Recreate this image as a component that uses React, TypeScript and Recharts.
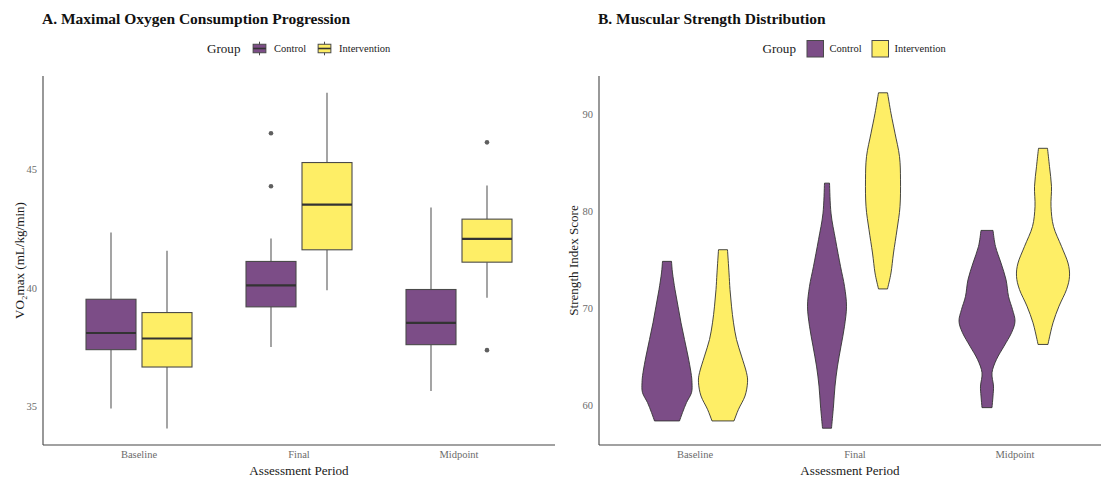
import React from 'react';
import { ComposedChart, Bar, XAxis, YAxis, Label } from 'recharts';

const periods = ['Baseline', 'Final', 'Midpoint'];
const groups = ['Control', 'Intervention'];

// Panel A: VO2max box-plot statistics per period
const vo2ControlLow = [34.92, 37.51, 35.66];
const vo2ControlQ1 = [37.4, 39.2, 37.61];
const vo2ControlMedian = [38.1, 40.1, 38.53];
const vo2ControlQ3 = [39.52, 41.11, 39.93];
const vo2ControlHigh = [42.33, 42.08, 43.38];
const vo2ControlOutliers = [[], [44.27, 46.5], []];

const vo2InterventionLow = [34.08, 39.9, 39.58];
const vo2InterventionQ1 = [36.67, 41.6, 41.08];
const vo2InterventionMedian = [37.87, 43.5, 42.06];
const vo2InterventionQ3 = [38.96, 45.27, 42.89];
const vo2InterventionHigh = [41.56, 48.21, 44.3];
const vo2InterventionOutliers = [[], [], [37.38, 46.12]];

const vo2Ticks = [35, 40, 45];
const vo2Domain = [33.39, 48.91];

// Panel B: violin outlines (score levels, top to bottom, and relative density width)
const strengthControlLevels = [
  [74.83, 73.64, 71.92, 70.21, 68.5, 66.78, 65.07, 63.36, 62.33, 61.3, 60.28, 59.25, 58.39],
  [82.89, 79.8, 77.06, 74.32, 72.26, 70.21, 68.15, 66.09, 64.04, 61.98, 59.93, 57.64],
  [78.02, 76.37, 74.66, 72.95, 71.23, 69.87, 68.66, 67.47, 66.09, 64.73, 63.36, 61.98, 60.96, 59.76],
];
const strengthControlDensity = [
  [0.09, 0.11, 0.16, 0.22, 0.28, 0.35, 0.42, 0.48, 0.5, 0.49, 0.39, 0.31, 0.25],
  [0.05, 0.08, 0.17, 0.27, 0.35, 0.39, 0.35, 0.28, 0.21, 0.16, 0.13, 0.09],
  [0.12, 0.17, 0.28, 0.38, 0.43, 0.51, 0.56, 0.49, 0.34, 0.19, 0.1, 0.13, 0.12, 0.1],
];
const strengthInterventionLevels = [
  [76.03, 73.64, 71.92, 70.21, 68.5, 66.78, 65.07, 63.36, 62.33, 60.96, 59.59, 58.39],
  [92.2, 90.08, 88.03, 85.63, 83.23, 80.48, 78.09, 75.69, 73.64, 71.99],
  [86.48, 84.59, 82.54, 80.48, 78.43, 76.37, 74.66, 73.29, 71.92, 70.21, 68.5, 66.78, 66.27],
];
const strengthInterventionDensity = [
  [0.09, 0.12, 0.14, 0.17, 0.21, 0.27, 0.37, 0.47, 0.49, 0.44, 0.31, 0.22],
  [0.09, 0.16, 0.24, 0.33, 0.35, 0.34, 0.28, 0.21, 0.16, 0.09],
  [0.09, 0.13, 0.17, 0.16, 0.21, 0.37, 0.5, 0.53, 0.47, 0.32, 0.2, 0.12, 0.1],
];

const strengthTicks = [60, 70, 80, 90];
const strengthDomain = [55.91, 93.93];

const COLORS: Record<string, string> = { Control: '#7C4D87', Intervention: '#FEEE66' };
const FONT = "'Liberation Serif', 'Times New Roman', serif";
const TICK_COLOR = '#6b6b6b';
const AXIS_COLOR = '#444444';

const boxRows = periods.map((period, i) => ({
  period,
  Control: [vo2ControlLow[i], vo2ControlHigh[i]],
  Intervention: [vo2InterventionLow[i], vo2InterventionHigh[i]],
  ControlStats: {
    low: vo2ControlLow[i], q1: vo2ControlQ1[i], median: vo2ControlMedian[i],
    q3: vo2ControlQ3[i], high: vo2ControlHigh[i], outliers: vo2ControlOutliers[i],
  },
  InterventionStats: {
    low: vo2InterventionLow[i], q1: vo2InterventionQ1[i], median: vo2InterventionMedian[i],
    q3: vo2InterventionQ3[i], high: vo2InterventionHigh[i], outliers: vo2InterventionOutliers[i],
  },
}));

const violinRows = periods.map((period, i) => ({
  period,
  Control: [Math.min(...strengthControlLevels[i]), Math.max(...strengthControlLevels[i])],
  Intervention: [Math.min(...strengthInterventionLevels[i]), Math.max(...strengthInterventionLevels[i])],
  ControlProfile: strengthControlLevels[i].map((v, j) => [v, strengthControlDensity[i][j]]),
  InterventionProfile: strengthInterventionLevels[i].map((v, j) => [v, strengthInterventionDensity[i][j]]),
}));

const makeBoxShape = (group: string) => (props: any) => {
  const { x, y, width, height, payload } = props;
  const s = payload[`${group}Stats`];
  const lo = s.low;
  const hi = s.high;
  const top = Math.min(y, y + height);
  const h = Math.abs(height);
  const py = (v: number) => top + (h * (hi - v)) / (hi - lo);
  const cx = x + width / 2;
  return (
    <g>
      <line x1={cx} x2={cx} y1={py(s.high)} y2={py(s.q3)} stroke="#5a5a5a" strokeWidth={1.1} />
      <line x1={cx} x2={cx} y1={py(s.q1)} y2={py(s.low)} stroke="#5a5a5a" strokeWidth={1.1} />
      <rect x={x} y={py(s.q3)} width={width} height={py(s.q1) - py(s.q3)} fill={COLORS[group]} stroke="#4a4a4a" strokeWidth={1.1} />
      <line x1={x} x2={x + width} y1={py(s.median)} y2={py(s.median)} stroke="#333333" strokeWidth={2.2} />
      {s.outliers.map((o: number, k: number) => (
        <circle key={k} cx={cx} cy={py(o)} r={2.3} fill="#5f5f5f" />
      ))}
    </g>
  );
};

const smoothPath = (pts: number[][]) => {
  let d = '';
  for (let i = 0; i < pts.length - 1; i++) {
    const p0 = pts[i - 1] || pts[i];
    const p1 = pts[i];
    const p2 = pts[i + 1];
    const p3 = pts[i + 2] || p2;
    const c1x = p1[0] + (p2[0] - p0[0]) / 6;
    const c1y = p1[1] + (p2[1] - p0[1]) / 6;
    const c2x = p2[0] - (p3[0] - p1[0]) / 6;
    const c2y = p2[1] - (p3[1] - p1[1]) / 6;
    d += ` C ${c1x} ${c1y} ${c2x} ${c2y} ${p2[0]} ${p2[1]}`;
  }
  return d;
};

const makeViolinShape = (group: string) => (props: any) => {
  const { x, y, width, height, payload } = props;
  const prof: number[][] = payload[`${group}Profile`];
  const [lo, hi] = payload[group];
  const top = Math.min(y, y + height);
  const h = Math.abs(height);
  const py = (v: number) => top + (h * (hi - v)) / (hi - lo);
  const cx = x + width / 2;
  const right = prof.map(([v, f]) => [cx + f * width, py(v)]);
  const left = prof.map(([v, f]) => [cx - f * width, py(v)]).reverse();
  const d =
    `M ${right[0][0]} ${right[0][1]}` +
    smoothPath(right) +
    ` L ${left[0][0]} ${left[0][1]}` +
    smoothPath(left) +
    ' Z';
  return <path d={d} fill={COLORS[group]} stroke="#333333" strokeWidth={0.9} strokeLinejoin="round" />;
};

const tickStyle = { fontSize: 10.5, fill: TICK_COLOR, fontFamily: FONT };

function BoxKey({ x, y, color }: { x: number; y: number; color: string }) {
  const s = 17;
  return (
    <g>
      <line x1={x + s / 2} x2={x + s / 2} y1={y + s * 0.1} y2={y + s * 0.9} stroke="#4a4a4a" strokeWidth={1} />
      <rect x={x + s * 0.125} y={y + s * 0.25} width={s * 0.75} height={s * 0.5} fill={color} stroke="#4a4a4a" strokeWidth={1} />
      <line x1={x + s * 0.125} x2={x + s * 0.875} y1={y + s / 2} y2={y + s / 2} stroke="#333" strokeWidth={1.6} />
    </g>
  );
}

function SquareKey({ x, y, color }: { x: number; y: number; color: string }) {
  return <rect x={x + 0.5} y={y + 0.5} width={16.5} height={16.5} fill={color} stroke="#4a4a4a" strokeWidth={1} />;
}

function Legend({ x0, kind }: { x0: number; kind: 'box' | 'square' }) {
  const Key = kind === 'box' ? BoxKey : SquareKey;
  return (
    <g fontFamily={FONT}>
      <text x={x0} y={52.5} fontSize={13.1} fill="#1a1a1a">Group</text>
      <Key x={x0 + 44} y={40} color={COLORS[groups[0]]} />
      <text x={x0 + 67} y={52} fontSize={10.5} fill="#1a1a1a">{groups[0]}</text>
      <Key x={x0 + 109} y={40} color={COLORS[groups[1]]} />
      <text x={x0 + 132} y={52} fontSize={10.5} fill="#1a1a1a">{groups[1]}</text>
    </g>
  );
}

export default function App() {
  return (
    <div style={{ position: 'absolute', left: 0, top: 0, width: 1101, height: 477, background: '#fff', fontFamily: FONT, overflow: 'hidden' }}>
      <div style={{ position: 'absolute', left: 0, top: 0 }}>
        <ComposedChart width={560} height={477} data={boxRows} margin={{ top: 76, right: 5, bottom: 0, left: 0 }} barSize={50} barGap={6}>
          <XAxis dataKey="period" height={32} padding={{ left: 16, right: 16 }} tickLine={false} tickSize={4} tickMargin={2}
            axisLine={{ stroke: AXIS_COLOR, strokeWidth: 1.1 }} tick={tickStyle} interval={0}>
            <Label value="Assessment Period" position="insideBottom" offset={2} style={{ fontSize: 13.1, fill: '#1a1a1a', fontFamily: FONT }} />
          </XAxis>
          <YAxis type="number" domain={vo2Domain} ticks={vo2Ticks} allowDataOverflow width={43} tickLine={false} tickSize={4} tickMargin={2}
            axisLine={{ stroke: AXIS_COLOR, strokeWidth: 1.1 }} tick={tickStyle}>
            <Label value="VO₂max (mL/kg/min)" angle={-90} position="insideLeft" offset={19}
              style={{ fontSize: 13.1, fill: '#1a1a1a', fontFamily: FONT, textAnchor: 'middle' }} />
          </YAxis>
          <Bar dataKey="Control" shape={makeBoxShape('Control')} isAnimationActive={false} activeBar={false} />
          <Bar dataKey="Intervention" shape={makeBoxShape('Intervention')} isAnimationActive={false} activeBar={false} />
        </ComposedChart>
      </div>
      <div style={{ position: 'absolute', left: 556, top: 0 }}>
        <ComposedChart width={545} height={477} data={violinRows} margin={{ top: 76, right: 0, bottom: 0, left: 0 }} barSize={50} barGap={6}>
          <XAxis dataKey="period" height={32} padding={{ left: 16, right: 6 }} tickLine={false} tickSize={4} tickMargin={2}
            axisLine={{ stroke: AXIS_COLOR, strokeWidth: 1.1 }} tick={tickStyle} interval={0}>
            <Label value="Assessment Period" position="insideBottom" offset={2} style={{ fontSize: 13.1, fill: '#1a1a1a', fontFamily: FONT }} />
          </XAxis>
          <YAxis type="number" domain={strengthDomain} ticks={strengthTicks} allowDataOverflow width={43} tickLine={false} tickSize={4} tickMargin={2}
            axisLine={{ stroke: AXIS_COLOR, strokeWidth: 1.1 }} tick={tickStyle}>
            <Label value="Strength Index Score" angle={-90} position="insideLeft" offset={17}
              style={{ fontSize: 13.1, fill: '#1a1a1a', fontFamily: FONT, textAnchor: 'middle' }} />
          </YAxis>
          <Bar dataKey="Control" shape={makeViolinShape('Control')} isAnimationActive={false} activeBar={false} />
          <Bar dataKey="Intervention" shape={makeViolinShape('Intervention')} isAnimationActive={false} activeBar={false} />
        </ComposedChart>
      </div>
      <svg width={1101} height={477} style={{ position: 'absolute', left: 0, top: 0, pointerEvents: 'none' }}>
        <text x={42} y={24} fontFamily={FONT} fontWeight="bold" fontSize={15.5} fill="#111">A. Maximal Oxygen Consumption Progression</text>
        <text x={598} y={24} fontFamily={FONT} fontWeight="bold" fontSize={15.5} fill="#111">B. Muscular Strength Distribution</text>
        <Legend x0={207} kind="box" />
        <Legend x0={762.5} kind="square" />
      </svg>
    </div>
  );
}
